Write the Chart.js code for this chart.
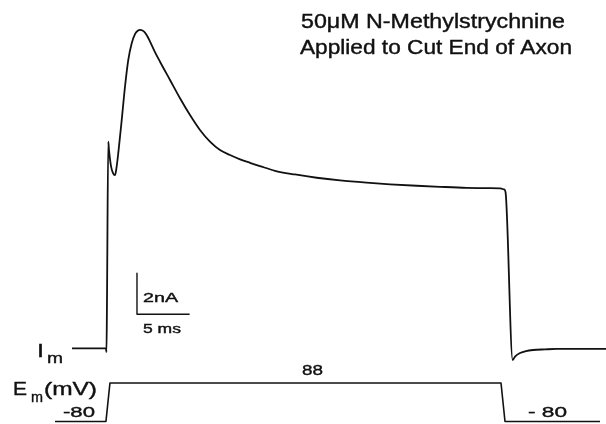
<!DOCTYPE html>
<html>
<head>
<meta charset="utf-8">
<script src="https://cdn.jsdelivr.net/npm/chart.js@4.4.0/dist/chart.umd.min.js"></script>
<style>
  html, body { margin: 0; padding: 0; background: #fff; }
  #trace { display: block; }
</style>
</head>
<body>
<canvas id="trace" width="606" height="424"></canvas>
<script>
// membrane current, time in ms from step onset, current in nA
const imTime = [-3.30, -0.07, -0.02, 0.03, 0.15, 0.22, 0.41, 0.60, 0.79, 0.93, 1.10, 1.43, 1.74, 2.05, 2.38, 2.69,
  2.93, 3.17, 3.40, 3.64, 3.88, 4.12, 4.59, 5.07, 6.02, 6.97, 7.92, 8.87, 9.82, 10.77, 11.72, 12.68, 13.62,
  14.57, 16.00, 17.90, 19.96, 22.18, 24.71, 26.93, 29.47, 31.68, 34.22, 36.44, 37.39, 37.77, 37.91, 38.59,
  38.81, 39.29, 39.86, 40.52, 41.67, 42.78, 47.46];
const imCurrent = [0, 0, -0.18, 2.36, 10.08, 9.67, 8.89, 8.55, 8.45, 8.80, 9.51, 11.14, 12.76, 14.06, 14.88, 15.33,
  15.48, 15.53, 15.50, 15.40, 15.21, 14.96, 14.45, 13.98, 13.09, 12.20, 11.38, 10.65, 10.08, 9.67, 9.43, 9.22, 9.05,
  8.89, 8.66, 8.48, 8.32, 8.19, 8.08, 8.00, 7.93, 7.88, 7.83, 7.81, 7.80, 7.75, 7.62, -0.57,
  -0.40, -0.23, -0.13, -0.08, -0.05, -0.03, -0.03];

// membrane potential (mV)
const emTime = [-4.91, -0.07, 0.31, 37.48, 37.86, 46.89];
const emVolt = [-80, -80, 88, 88, -80, -80];

// calibration bar: 2 nA, 5 ms
const barTime = [2.88, 2.88, 7.88];
const barCurrent = [3.66, 1.66, 1.66];

function pts(xs, ys) {
    return xs.map((x, i) => ({ x: x, y: ys[i] }));
}

// lettering, pixel positions; w = width the text is fitted to
const notes = [
    { t: '50\u03bcM N-Methylstrychnine', x: 301, y: 28, size: 20, w: 264 },
    { t: 'Applied to Cut End of Axon', x: 300, y: 54, size: 20, w: 272 },
    { t: 'I', x: 37, y: 357, size: 19, w: 7 },
    { t: 'm', x: 47, y: 363, size: 15, w: 16 },
    { t: 'E', x: 13, y: 395, size: 19, w: 14 },
    { t: 'm', x: 31, y: 402, size: 15, w: 12 },
    { t: '(mV)', x: 44, y: 395, size: 19, w: 53 },
    { t: '-80', x: 63, y: 417, size: 15, w: 32 },
    { t: '88', x: 302, y: 375, size: 15, w: 21 },
    { t: '- 80', x: 528, y: 417, size: 15, w: 39 },
    { t: '2nA', x: 143, y: 302, size: 13, w: 35 },
    { t: '5 ms', x: 143, y: 333, size: 13, w: 38 }
];

const lettering = {
    id: 'lettering',
    afterDatasetsDraw(chart) {
        const ctx = chart.ctx;
        ctx.save();
        ctx.fillStyle = '#111';
        ctx.strokeStyle = '#111';
        ctx.lineWidth = 0.4;
        ctx.textBaseline = 'alphabetic';
        notes.forEach(n => {
            ctx.font = n.size + 'px "Liberation Sans", Arial, sans-serif';
            const m = ctx.measureText(n.t).width;
            ctx.save();
            ctx.translate(n.x, n.y);
            ctx.scale(n.w / m, 1);
            ctx.fillText(n.t, 0, 0);
            ctx.strokeText(n.t, 0, 0);
            ctx.restore();
        });
        ctx.restore();
    }
};

new Chart(document.getElementById('trace'), {
    type: 'line',
    data: {
        datasets: [{
            data: pts(imTime, imCurrent),
            borderColor: '#111',
            borderWidth: 1.8,
            cubicInterpolationMode: 'monotone',
            yAxisID: 'y'
        }, {
            data: pts(emTime, emVolt),
            borderColor: '#111',
            borderWidth: 1.6,
            tension: 0,
            yAxisID: 'yV'
        }, {
            data: pts(barTime, barCurrent),
            borderColor: '#111',
            borderWidth: 1.4,
            tension: 0,
            yAxisID: 'y'
        }]
    },
    options: {
        responsive: false,
        devicePixelRatio: 1,
        animation: false,
        events: [],
        layout: { padding: 0 },
        elements: { point: { radius: 0 }, line: { borderJoinStyle: 'round', borderCapStyle: 'butt' } },
        datasets: { line: { clip: false, fill: false } },
        plugins: { legend: { display: false }, tooltip: { enabled: false } },
        scales: {
            x: { type: 'linear', min: -10.14, max: 47.46, display: false },
            y: { min: -3.69, max: 16.99, display: false },
            yV: { min: -90.9, max: 1759.4, display: false }
        }
    },
    plugins: [lettering]
});
</script>
</body>
</html>
